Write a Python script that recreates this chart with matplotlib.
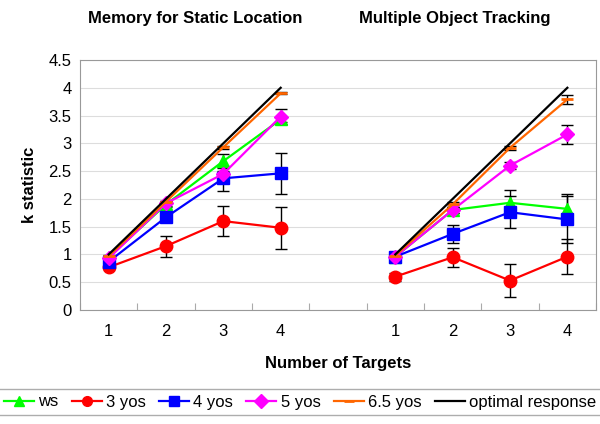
import numpy as np
import matplotlib.pyplot as plt

plt.rcParams['font.family'] = ['Liberation Sans', 'DejaVu Sans']

targets = [1, 2, 3, 4]
series = ['ws', '3 yos', '4 yos', '5 yos', '6.5 yos', 'optimal response']

# Memory for Static Location
static_mean = {
    'ws': [0.95, 1.9, 2.68, 3.43],
    '3 yos': [0.77, 1.15, 1.6, 1.48],
    '4 yos': [0.87, 1.67, 2.37, 2.46],
    '5 yos': [0.93, 1.92, 2.45, 3.48],
    '6.5 yos': [0.97, 1.95, 2.93, 3.9],
    'optimal response': [1, 2, 3, 4],
}
static_err = {
    'ws': [0.03, 0.05, 0.12, 0.05],
    '3 yos': [0.04, 0.19, 0.27, 0.38],
    '4 yos': [0.04, 0.06, 0.22, 0.37],
    '5 yos': [0.03, 0.04, 0.06, 0.13],
    '6.5 yos': [0.02, 0.02, 0.03, 0.02],
    'optimal response': None,
}

# Multiple Object Tracking
mot_mean = {
    'ws': [0.96, 1.8, 1.93, 1.82],
    '3 yos': [0.6, 0.95, 0.53, 0.96],
    '4 yos': [0.96, 1.37, 1.76, 1.63],
    '5 yos': [0.96, 1.8, 2.6, 3.16],
    '6.5 yos': [0.98, 1.9, 2.92, 3.79],
    'optimal response': [1, 2, 3, 4],
}
mot_err = {
    'ws': [0.03, 0.05, 0.23, 0.26],
    '3 yos': [0.07, 0.17, 0.29, 0.31],
    '4 yos': [0.03, 0.16, 0.29, 0.43],
    '5 yos': [0.03, 0.05, 0.06, 0.17],
    '6.5 yos': [0.02, 0.05, 0.04, 0.08],
    'optimal response': None,
}

styles = {
    'ws': dict(color='#00ff00', marker='^', ms=8),
    '3 yos': dict(color='#ff0000', marker='o', ms=9),
    '4 yos': dict(color='#0000ff', marker='s', ms=8),
    '5 yos': dict(color='#ff00ff', marker='D', ms=7),
    '6.5 yos': dict(color='#ff6600', marker='_', ms=9, mew=2),
    'optimal response': dict(color='black', marker=None),
}

fig = plt.figure(figsize=(6, 4.24), dpi=100)
ax = fig.add_axes([80 / 600, 1 - 310 / 424, 516 / 600, 250 / 424])

left_x = np.arange(4)
right_x = np.arange(4) + 5

handles = []
for name in series:
    st = styles[name]
    for xs, mean, err in [(left_x, static_mean, static_err), (right_x, mot_mean, mot_err)]:
        if err[name] is not None:
            ax.errorbar(xs, mean[name], yerr=err[name], fmt='none', ecolor='black',
                        elinewidth=1, capsize=4, capthick=1, zorder=2)
        h, = ax.plot(xs, mean[name], lw=1.6, zorder=3, label=name, **st)
    handles.append(h)

ax.set_xlim(-0.5, 8.5)
ax.set_ylim(0, 4.5)
ax.set_yticks(np.arange(0, 4.51, 0.5))
ax.set_yticklabels(['0', '0.5', '1', '1.5', '2', '2.5', '3', '3.5', '4', '4.5'], fontsize=12)
ax.yaxis.grid(True, color='#dddddd', lw=0.8)
ax.set_axisbelow(True)

ax.set_xticks(np.arange(-0.5, 9, 1))
ax.set_xticklabels([])
ax.tick_params(axis='x', length=5, color='#aaaaaa', direction='in')
ax.tick_params(axis='y', length=0, pad=6)
ax.set_xticks(list(left_x) + list(right_x), minor=True)
ax.set_xticklabels([str(t) for t in targets] * 2, minor=True, fontsize=12)
ax.tick_params(axis='x', which='minor', length=0, pad=10)

for sp in ax.spines.values():
    sp.set_color('#999999')

ax.set_ylabel('k statistic', fontsize=12, fontweight='bold', labelpad=8)
ax.set_xlabel('Number of Targets', fontsize=12, fontweight='bold', labelpad=12)

fig.text(195 / 600, 1 - 18 / 424, 'Memory for Static Location', fontsize=12,
         fontweight='bold', ha='center', va='center')
fig.text(455 / 600, 1 - 18 / 424, 'Multiple Object Tracking', fontsize=12,
         fontweight='bold', ha='center', va='center')

leg = fig.legend(handles=handles, labels=series, loc='center', ncol=6,
                 bbox_to_anchor=(0.5, 1 - 402 / 424), frameon=True,
                 prop={'family': ['Liberation Sans Narrow', 'Liberation Sans'], 'size': 12},
                 fancybox=False, edgecolor='#999999', handlelength=1.8,
                 handletextpad=0.25, columnspacing=0.8, borderpad=0.35)
for lh in leg.legend_handles:
    lh.set_markersize(7)

fig.savefig('out.png', dpi=100)
